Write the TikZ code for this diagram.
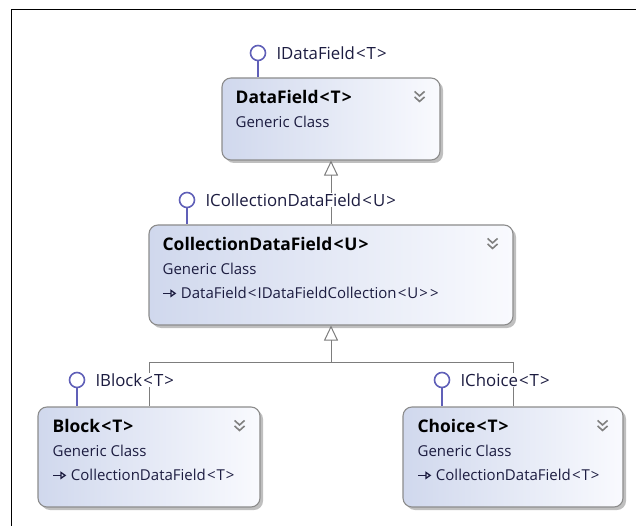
\documentclass[tikz,border=0pt]{standalone}
\usepackage{fontspec}
\setmainfont{Open Sans}
\usetikzlibrary{positioning, arrows.meta, shadows}
\definecolor{BoxLine}{RGB}{140,140,140}
\definecolor{BoxLeft}{RGB}{208,216,237}
\definecolor{BoxRight}{RGB}{249,250,254}
\definecolor{Lolly}{RGB}{96,96,184}
\definecolor{TextNavy}{RGB}{28,28,64}
\definecolor{LinkGray}{RGB}{125,125,125}
\newcommand{\opn}{\kern1.2pt<\kern1pt}
\newcommand{\cls}{\kern1pt>\kern1.2pt}
\newcommand{\parentarrow}{\tikz[baseline=0pt]\draw[TextNavy, line width=1.3pt,
    -{Triangle[open, length=6pt, width=8pt]}] (0pt,5.5pt) -- (13pt,5.5pt);\kern4pt}
\newcommand{\classtitle}[1]{{\fontsize{17.4}{24}\selectfont\bfseries\color{black}#1}}

\begin{document}
\begin{tikzpicture}[x=1pt, y=-1pt, font=\fontsize{15}{24}\selectfont]
    \tikzset{
        classbox/.style={rectangle, rounded corners=9pt, draw=BoxLine, line width=1.1pt,
            left color=BoxLeft, right color=BoxRight,
            drop shadow={shadow xshift=3pt, shadow yshift=-3pt, fill=black, opacity=0.25}},
        classtext/.style={anchor=north west, inner sep=0pt, align=left, text=TextNavy},
        lolly/.style={circle, draw=Lolly, line width=1.6pt, fill=white,
            minimum size=15pt, inner sep=0pt},
        lollytext/.style={anchor=west, fill=white, inner sep=1pt, text=TextNavy,
            font=\fontsize{16.8}{20}\selectfont},
        stem/.style={draw=Lolly, line width=1.6pt},
        inherit/.style={draw=LinkGray, line width=1pt},
        inhtip/.style={inherit, -{Triangle[open, length=15pt, width=14pt]}},
        chev/.style={draw=black!50, line width=1.6pt}
    }
    \useasboundingbox (0,0) rectangle (636,526);
    \draw[black, line width=1pt] (11,526) |- (636,10);

    \node[classbox, minimum width=218pt, minimum height=82pt] (datafield) at (331,119) {};
    \node[classbox, minimum width=364pt, minimum height=100pt] (collection) at (331,275) {};
    \node[classbox, minimum width=222pt, minimum height=100pt] (block) at (149,457) {};
    \node[classbox, minimum width=220pt, minimum height=100pt] (choice) at (513,457) {};

    \node[classtext] (datafieldtext) at ([shift={(14,13)}]datafield.north west)
        {\classtitle{DataField\opn T\cls}\\Generic Class};
    \node[classtext] (collectiontext) at ([shift={(14,13)}]collection.north west)
        {\classtitle{CollectionDataField\opn U\cls}\\Generic Class\\
         \parentarrow DataField\opn IDataFieldCollection\opn U\cls\cls};
    \node[classtext] (blocktext) at ([shift={(15,13)}]block.north west)
        {\classtitle{Block\opn T\cls}\\Generic Class\\\parentarrow CollectionDataField\opn T\cls};
    \node[classtext] (choicetext) at ([shift={(15,13)}]choice.north west)
        {\classtitle{Choice\opn T\cls}\\Generic Class\\\parentarrow CollectionDataField\opn T\cls};

    \foreach \b in {datafield, collection, block, choice} {
        \draw[chev] ([shift={(-26,14)}]\b.north east) -- ++(5,4.5) -- ++(5,-4.5);
        \draw[chev] ([shift={(-26,19.5)}]\b.north east) -- ++(5,4.5) -- ++(5,-4.5);
    }

    \coordinate (bus) at (331,362);
    \draw[inhtip] (collection.north) -- (datafield.south);
    \draw[inherit] (block.north) |- (bus);
    \draw[inherit] (choice.north) |- (bus);
    \draw[inhtip] (bus) -- (collection.south);

    \node[lolly] (idatafield) at (258,53) {};
    \node[lolly] (icollection) at (187,200) {};
    \node[lolly] (iblock) at (77,380) {};
    \node[lolly] (ichoice) at (442,380) {};
    \node[lollytext, right=9pt of idatafield] (idatafieldlbl) {IDataField\opn T\cls};
    \node[lollytext, right=9pt of icollection] (icollectionlbl) {ICollectionDataField\opn U\cls};
    \node[lollytext, right=9pt of iblock] (iblocklbl) {IBlock\opn T\cls};
    \node[lollytext, right=9pt of ichoice] (ichoicelbl) {IChoice\opn T\cls};
    \draw[stem] (idatafield) -- (idatafield |- datafield.north);
    \draw[stem] (icollection) -- (icollection |- collection.north);
    \draw[stem] (iblock) -- (iblock |- block.north);
    \draw[stem] (ichoice) -- (ichoice |- choice.north);
\end{tikzpicture}
\end{document}
